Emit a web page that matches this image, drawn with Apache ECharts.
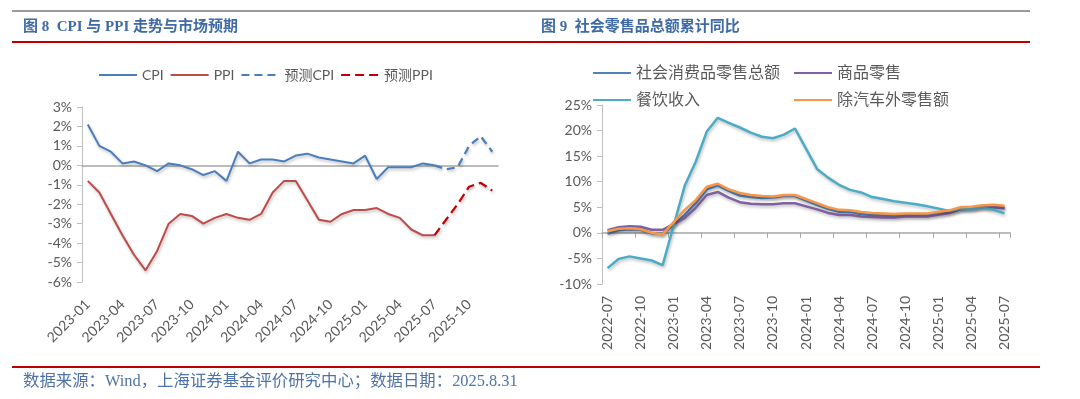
<!DOCTYPE html>
<html>
<head>
<meta charset="utf-8">
<script src="https://cdn.jsdelivr.net/npm/echarts@6/dist/echarts.min.js"></script>
<style>
html, body { margin: 0; padding: 0; background: #fff; }
#main { width: 1080px; height: 399px; }
</style>
</head>
<body>
<div id="main"></div>
<script>
// 图8 CPI 与 PPI（%），2023-01 ~ 2025-12
var cpiMonths = ['2023-01','2023-02','2023-03','2023-04','2023-05','2023-06','2023-07','2023-08','2023-09','2023-10','2023-11','2023-12',
  '2024-01','2024-02','2024-03','2024-04','2024-05','2024-06','2024-07','2024-08','2024-09','2024-10','2024-11','2024-12',
  '2025-01','2025-02','2025-03','2025-04','2025-05','2025-06','2025-07','2025-08','2025-09','2025-10','2025-11','2025-12'];
var cpi = [2.1, 1.0, 0.7, 0.1, 0.2, 0.0, -0.3, 0.1, 0.0, -0.2, -0.5, -0.3,
  -0.8, 0.7, 0.1, 0.3, 0.3, 0.2, 0.5, 0.6, 0.4, 0.3, 0.2, 0.1,
  0.5, -0.7, -0.1, -0.1, -0.1, 0.1, 0.0];
var ppi = [-0.8, -1.4, -2.5, -3.6, -4.6, -5.4, -4.4, -3.0, -2.5, -2.6, -3.0, -2.7,
  -2.5, -2.7, -2.8, -2.5, -1.4, -0.8, -0.8, -1.8, -2.8, -2.9, -2.5, -2.3,
  -2.3, -2.2, -2.5, -2.7, -3.3, -3.6, -3.6];
// 预测值 2025-08 ~ 2025-12
var cpiForecast = [-0.2, -0.1, 1.0, 1.5, 0.7];
var ppiForecast = [-2.8, -2.0, -1.1, -0.9, -1.3];

// 图9 社会零售品总额累计同比（%），2022-07 ~ 2025-07，1月无数据
var retailMonths = ['2022-07','2022-08','2022-09','2022-10','2022-11','2022-12',
  '2023-01','2023-02','2023-03','2023-04','2023-05','2023-06','2023-07','2023-08','2023-09','2023-10','2023-11','2023-12',
  '2024-01','2024-02','2024-03','2024-04','2024-05','2024-06','2024-07','2024-08','2024-09','2024-10','2024-11','2024-12',
  '2025-01','2025-02','2025-03','2025-04','2025-05','2025-06','2025-07'];
var retailTotal = [-0.2, 0.5, 0.7, 0.6, -0.1, -0.2,
  null, 3.5, 5.8, 8.5, 9.3, 8.2, 7.3, 7.0, 6.8, 6.9, 7.2, 7.2,
  null, 5.5, 4.7, 4.1, 4.1, 3.7, 3.5, 3.4, 3.3, 3.5, 3.5, 3.5,
  null, 4.0, 4.6, 4.7, 5.0, 5.0, 4.8];
var goodsRetail = [0.5, 1.1, 1.3, 1.2, 0.6, 0.6,
  null, 2.9, 4.9, 7.4, 8.0, 6.9, 6.0, 5.7, 5.6, 5.6, 5.8, 5.8,
  null, 4.6, 3.9, 3.5, 3.5, 3.2, 3.1, 3.0, 3.0, 3.2, 3.2, 3.2,
  null, 3.9, 4.6, 4.8, 5.1, 5.1, 4.9];
var cateringIncome = [-6.9, -5.1, -4.6, -5.0, -5.4, -6.3,
  null, 9.2, 13.9, 19.8, 22.5, 21.5, 20.6, 19.6, 18.8, 18.5, 19.2, 20.4,
  null, 12.5, 10.8, 9.4, 8.4, 7.9, 7.0, 6.6, 6.2, 5.9, 5.6, 5.2,
  null, 4.3, 4.7, 4.6, 5.0, 4.5, 3.8];
var exAutoRetail = [0.3, 0.8, 0.9, 0.7, 0.0, -0.3,
  null, 4.5, 6.4, 9.0, 9.6, 8.5, 7.8, 7.4, 7.2, 7.1, 7.4, 7.4,
  null, 5.8, 5.0, 4.5, 4.4, 4.1, 3.9, 3.8, 3.7, 3.8, 3.8, 3.8,
  null, 4.4, 5.0, 5.1, 5.4, 5.5, 5.3];

var FONT = 'Lato, "Noto Sans CJK SC", sans-serif';
var SERIF = '"Liberation Serif", "Noto Sans CJK SC", serif';
var labelGray = '#595959';
var axisGray = '#BFBFBF';

function padActual(arr, n) {
  return arr.concat(new Array(n - arr.length).fill(null));
}
function padForecast(actual, fc) {
  var out = new Array(actual.length - 1).fill(null);
  out.push(actual[actual.length - 1]);
  return out.concat(fc);
}

var shadow = { shadowColor: 'rgba(0,0,0,0.25)', shadowBlur: 3, shadowOffsetX: 1, shadowOffsetY: 2 };
function lineStyle(color, width, type) {
  return Object.assign({ color: color, width: width, type: type || 'solid' }, shadow);
}
// 图例只画线，不画圆点
function legendBox(left, top, names, size) {
  return { left: left, top: top, itemWidth: 38, itemHeight: 10, itemGap: 6, data: names,
    itemStyle: { opacity: 0 },
    textStyle: { fontFamily: FONT, fontSize: size, color: labelGray } };
}

var chart = echarts.init(document.getElementById('main'));
var option = {
  backgroundColor: '#fff',
  animation: false,
  title: [
    { text: '图 8  CPI 与 PPI 走势与市场预期', left: 23, top: 20, padding: 0,
      textStyle: { fontFamily: SERIF, fontSize: 15, fontWeight: 'bold', color: '#3F6AA6' } },
    { text: '图 9  社会零售品总额累计同比', left: 541, top: 20, padding: 0,
      textStyle: { fontFamily: SERIF, fontSize: 15, fontWeight: 'bold', color: '#3F6AA6' } }
  ],
  graphic: [
    { type: 'rect', shape: { x: 12, y: 10, width: 1018, height: 2 }, style: { fill: '#9A9A9A' } },
    { type: 'rect', shape: { x: 12, y: 41, width: 1018, height: 2 }, style: { fill: '#C00000' } },
    { type: 'rect', shape: { x: 12, y: 366, width: 1028, height: 2 }, style: { fill: '#C00000' } },
    { type: 'text', left: 23, top: 374,
      style: { text: '数据来源：Wind，上海证券基金评价研究中心；数据日期：2025.8.31',
        font: '16.4px ' + SERIF, fill: '#4F73A8' } }
  ],
  legend: [
    legendBox(93, 63, ['CPI', 'PPI', '预测CPI', '预测PPI'], 14),
    legendBox(587, 60, ['社会消费品零售总额'], 16),
    legendBox(788, 60, ['商品零售'], 16),
    legendBox(587, 87, ['餐饮收入'], 16),
    legendBox(788, 87, ['除汽车外零售额'], 16)
  ],
  grid: [
    { left: 82, top: 107, width: 416, height: 175 },
    { left: 602, top: 105, width: 408, height: 179 }
  ],
  xAxis: [
    // 图8 零轴
    { gridIndex: 0, type: 'category', data: cpiMonths, position: 'top',
      axisLine: { onZero: true, lineStyle: { color: '#A6A6A6', width: 1.5 } },
      axisTick: { show: false }, axisLabel: { show: false } },
    // 图8 底部标签
    { gridIndex: 0, type: 'category', data: cpiMonths, position: 'bottom',
      axisLine: { show: false, onZero: false }, axisTick: { show: false },
      axisLabel: { rotate: 45, interval: 2, margin: 20, fontFamily: FONT, fontSize: 14, color: labelGray } },
    // 图9 零轴
    { gridIndex: 1, type: 'category', data: retailMonths, position: 'top',
      axisLine: { onZero: true, lineStyle: { color: '#A6A6A6', width: 1.5 } },
      axisTick: { show: true, inside: true, interval: 2, length: 5, lineStyle: { color: '#A6A6A6' } },
      axisLabel: { show: false } },
    // 图9 底部标签
    { gridIndex: 1, type: 'category', data: retailMonths, position: 'bottom',
      axisLine: { show: false, onZero: false }, axisTick: { show: false },
      axisLabel: { rotate: 90, interval: 2, margin: 12, fontFamily: FONT, fontSize: 14, color: labelGray } }
  ],
  yAxis: [
    { gridIndex: 0, type: 'value', min: -6, max: 3, interval: 1,
      axisLine: { show: true, lineStyle: { color: axisGray } },
      axisTick: { show: true, length: 5, lineStyle: { color: axisGray } },
      splitLine: { show: false },
      axisLabel: { formatter: '{value}%', margin: 10, fontFamily: FONT, fontSize: 14, color: labelGray } },
    { gridIndex: 1, type: 'value', min: -10, max: 25, interval: 5,
      axisLine: { show: true, lineStyle: { color: axisGray } },
      axisTick: { show: true, length: 5, lineStyle: { color: axisGray } },
      splitLine: { show: false },
      axisLabel: { formatter: '{value}%', margin: 10, fontFamily: FONT, fontSize: 14, color: labelGray } }
  ],
  series: [
    { name: 'CPI', type: 'line', xAxisIndex: 1, yAxisIndex: 0, symbol: 'none', color: '#4A7EBB',
      data: padActual(cpi, cpiMonths.length), lineStyle: lineStyle('#4A7EBB', 2) },
    { name: 'PPI', type: 'line', xAxisIndex: 1, yAxisIndex: 0, symbol: 'none', color: '#BE4B48',
      data: padActual(ppi, cpiMonths.length), lineStyle: lineStyle('#BE4B48', 2) },
    { name: '预测CPI', type: 'line', xAxisIndex: 1, yAxisIndex: 0, symbol: 'none', color: '#4A7EBB',
      data: padForecast(cpi, cpiForecast), lineStyle: lineStyle('#4A7EBB', 2.25, [8, 5]) },
    { name: '预测PPI', type: 'line', xAxisIndex: 1, yAxisIndex: 0, symbol: 'none', color: '#C00000',
      data: padForecast(ppi, ppiForecast), lineStyle: lineStyle('#C00000', 2.25, [9, 5]) },

    { name: '社会消费品零售总额', type: 'line', xAxisIndex: 3, yAxisIndex: 1, symbol: 'none', connectNulls: true,
      color: '#4F81BD', data: retailTotal, lineStyle: lineStyle('#4F81BD', 2.5) },
    { name: '商品零售', type: 'line', xAxisIndex: 3, yAxisIndex: 1, symbol: 'none', connectNulls: true,
      color: '#7F60A0', data: goodsRetail, lineStyle: lineStyle('#7F60A0', 2.5) },
    { name: '餐饮收入', type: 'line', xAxisIndex: 3, yAxisIndex: 1, symbol: 'none', connectNulls: true,
      color: '#4BACC6', data: cateringIncome, lineStyle: lineStyle('#4BACC6', 2.5) },
    { name: '除汽车外零售额', type: 'line', xAxisIndex: 3, yAxisIndex: 1, symbol: 'none', connectNulls: true,
      color: '#F79646', data: exAutoRetail, lineStyle: lineStyle('#F79646', 2.5) }
  ]
};
chart.setOption(option);
</script>
</body>
</html>
